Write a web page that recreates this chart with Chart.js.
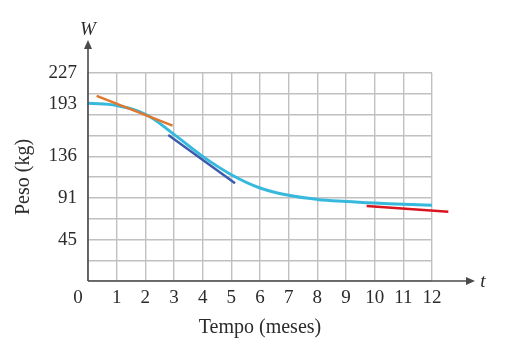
<!DOCTYPE html>
<html>
<head>
<meta charset="utf-8">
<script src="https://cdn.jsdelivr.net/npm/chart.js@4/dist/chart.umd.min.js"></script>
<style>
html,body{margin:0;padding:0;background:#fff;}
#wrap{width:517px;height:348px;}
</style>
</head>
<body>
<div id="wrap"><canvas id="c" width="517" height="348"></canvas></div>
<script>
// ---- data ----
const weightT = [0, 1, 2, 3, 4, 5, 6, 7, 8, 9, 10, 11, 12];
const weightW = [194, 191.5, 182, 160, 136, 116, 101.5, 93.5, 89, 86.7, 85, 83.7, 82.8];
const tangent1T = [0.3, 2.95];
const tangent1W = [202, 169.5];
const tangent2T = [2.8, 5.13];
const tangent2W = [159.3, 106.6];
const tangent3T = [9.72, 12.57];
const tangent3W = [81.9, 75.6];
const xTickLabels = ['0','1','2','3','4','5','6','7','8','9','10','11','12'];
const yTickValues = [45, 91, 136, 193, 227];
const yTickLabels = ['45', '91', '136', '193', '227'];
const yGridStep = 22.7;
const yMax = 227;
const xMax = 12;
const xTitle = 'Tempo (meses)';
const yTitle = 'Peso (kg)';
const xAxisName = 't';
const yAxisName = 'W';

function pts(xs, ys){ return xs.map((x,i)=>({x:x, y:ys[i]})); }

const FONT = 'Liberation Serif';
const TXT = '#2b2b2b';

const axesPlugin = {
  id: 'arrowAxes',
  afterDraw(chart){
    const ctx = chart.ctx, a = chart.chartArea;
    const x0 = chart.scales.x.getPixelForValue(0);
    const y0 = chart.scales.yl.getPixelForValue(0);
    ctx.save();
    ctx.strokeStyle = '#4a4a4a';
    ctx.fillStyle = '#4a4a4a';
    ctx.lineWidth = 1.6;
    // y axis
    ctx.beginPath(); ctx.moveTo(x0, y0); ctx.lineTo(x0, a.top - 28); ctx.stroke();
    ctx.beginPath(); ctx.moveTo(x0, a.top - 33); ctx.lineTo(x0 - 4, a.top - 24); ctx.lineTo(x0 + 4, a.top - 24); ctx.closePath(); ctx.fill();
    // x axis
    ctx.beginPath(); ctx.moveTo(x0, y0); ctx.lineTo(a.right + 38, y0); ctx.stroke();
    ctx.beginPath(); ctx.moveTo(a.right + 43, y0); ctx.lineTo(a.right + 34, y0 - 4); ctx.lineTo(a.right + 34, y0 + 4); ctx.closePath(); ctx.fill();
    // names
    ctx.fillStyle = TXT;
    ctx.font = 'italic 19px "' + FONT + '"';
    ctx.textAlign = 'center'; ctx.textBaseline = 'middle';
    ctx.fillText(yAxisName, x0, a.top - 43);
    ctx.fillText(xAxisName, a.right + 51, y0 + 1);
    // zero label
    ctx.font = '19px "' + FONT + '"';
    ctx.fillText(xTickLabels[0], x0 - 10, y0 + 17);
    ctx.restore();
  }
};

const common = { xAxisID: 'x', yAxisID: 'yl', pointRadius: 0, clip: false, fill: false };

new Chart(document.getElementById('c'), {
  type: 'line',
  data: {
    datasets: [
      Object.assign({ data: pts(tangent1T, tangent1W), borderColor: '#e0772e', borderWidth: 2.5 }, common),
      Object.assign({ data: pts(tangent2T, tangent2W), borderColor: '#3a5cae', borderWidth: 2.5 }, common),
      Object.assign({ data: pts(tangent3T, tangent3W), borderColor: '#d9161f', borderWidth: 2.5 }, common),
      Object.assign({ data: pts(weightT, weightW), borderColor: '#36b9dc', borderWidth: 3, tension: 0.4 }, common)
    ]
  },
  options: {
    responsive: false,
    animation: false,
    events: [],
    layout: { padding: { top: 73, right: 85, left: 0, bottom: 0 } },
    plugins: { legend: { display: false }, tooltip: { enabled: false } },
    scales: {
      x: {
        type: 'linear', min: 0, max: xMax,
        afterFit(s){ s.height = 67; },
        ticks: {
          stepSize: 1, autoSkip: false, padding: 6, maxRotation: 0,
          color: TXT, font: { family: FONT, size: 19 },
          callback: (v) => (v === 0 ? '' : (xTickLabels[v] || ''))
        },
        grid: { color: '#c0c0c0', lineWidth: 1.4, drawTicks: false },
        border: { display: false },
        title: { display: true, text: xTitle, color: TXT, font: { family: FONT, size: 20 }, padding: { top: 0, bottom: 8 } }
      },
      yl: {
        type: 'linear', position: 'left', min: 0, max: yMax,
        afterFit(s){ s.width = 88; },
        afterBuildTicks(s){ s.ticks = yTickValues.map(v => ({ value: v })); },
        ticks: {
          padding: 3, color: TXT, font: { family: FONT, size: 19 },
          callback: (v) => yTickLabels[yTickValues.indexOf(v)]
        },
        grid: { display: false },
        border: { display: false },
        title: { display: true, text: yTitle, color: TXT, font: { family: FONT, size: 20 }, padding: { top: 12, bottom: 0 } }
      },
      yg: {
        type: 'linear', position: 'right', min: 0, max: yMax,
        afterFit(s){ s.width = 0; },
        afterBuildTicks(s){
          const t = [];
          for (let k = 0; k <= 10; k++) t.push({ value: k * yGridStep });
          s.ticks = t;
        },
        ticks: { display: false },
        grid: { color: '#c0c0c0', lineWidth: 1.4, drawTicks: false },
        border: { display: false }
      }
    }
  },
  plugins: [axesPlugin]
});
</script>
</body>
</html>
